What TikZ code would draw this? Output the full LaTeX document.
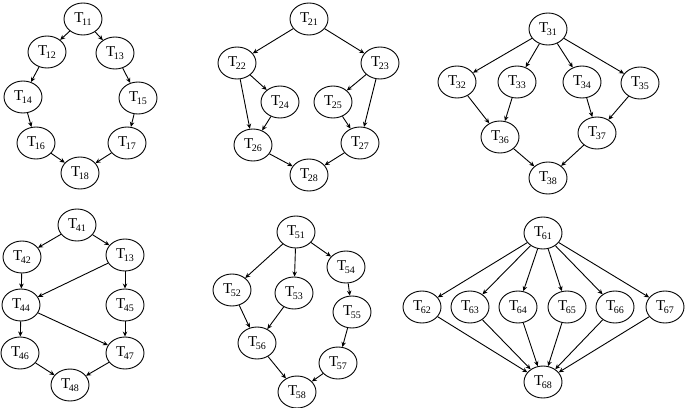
\documentclass[tikz,border=0pt]{standalone}
\usepackage{fontspec}
\setmainfont{Liberation Serif}
\usetikzlibrary{shapes.geometric,arrows.meta}
\newcommand\tlab[1]{T\kern-0.5pt\raisebox{-0.45ex}{\fontsize{10}{10}\selectfont\kern-0.8pt #1}}
\tikzset{
  task/.style={draw, ellipse, line width=0.9pt, minimum width=38pt, minimum height=32pt, inner sep=0pt, font=\fontsize{15}{17}\selectfont},
  edge/.style={draw, line width=0.9pt, -{Stealth[length=5pt,width=4.5pt]}}
}
\begin{document}
\begin{tikzpicture}[x=1pt,y=-1pt]
\useasboundingbox (0,0) rectangle (685,407);
% graph 1
\node[task] (a1) at (83,19) {\tlab{11}};
\node[task] (a2) at (47,52) {\tlab{12}};
\node[task] (a3) at (115,53) {\tlab{13}};
\node[task] (a4) at (23,97) {\tlab{14}};
\node[task] (a5) at (138,98) {\tlab{15}};
\node[task] (a6) at (36,143) {\tlab{16}};
\node[task] (a7) at (127,143) {\tlab{17}};
\node[task] (a8) at (80,173) {\tlab{18}};
\foreach \s/\t in {a1/a2,a1/a3,a2/a4,a3/a5,a4/a6,a5/a7,a6/a8,a7/a8}
  \draw[edge] (\s) -- (\t);
% graph 2
\node[task] (b1) at (309,19) {\tlab{21}};
\node[task] (b2) at (237,63) {\tlab{22}};
\node[task] (b3) at (380,63) {\tlab{23}};
\node[task] (b4) at (280,102) {\tlab{24}};
\node[task] (b5) at (333,102) {\tlab{25}};
\node[task] (b6) at (253,145) {\tlab{26}};
\node[task] (b7) at (360,143) {\tlab{27}};
\node[task] (b8) at (309,175) {\tlab{28}};
\foreach \s/\t in {b1/b2,b1/b3,b2/b4,b2/b6,b4/b6,b3/b5,b3/b7,b5/b7,b6/b8,b7/b8}
  \draw[edge] (\s) -- (\t);
% graph 3
\node[task] (c1) at (548,29) {\tlab{31}};
\node[task] (c2) at (457,82) {\tlab{32}};
\node[task] (c3) at (517,82) {\tlab{33}};
\node[task] (c4) at (582,82) {\tlab{34}};
\node[task] (c5) at (640,83) {\tlab{35}};
\node[task] (c6) at (500,137) {\tlab{36}};
\node[task] (c7) at (597,133) {\tlab{37}};
\node[task] (c8) at (548,178) {\tlab{38}};
\foreach \s/\t in {c1/c2,c1/c3,c1/c4,c1/c5,c2/c6,c3/c6,c4/c7,c5/c7,c6/c8,c7/c8}
  \draw[edge] (\s) -- (\t);
% graph 4
\node[task] (d1) at (77,225) {\tlab{41}};
\node[task] (d2) at (22,257) {\tlab{42}};
\node[task] (d3) at (125,255) {\tlab{13}};
\node[task] (d4) at (21,305) {\tlab{44}};
\node[task] (d5) at (125,305) {\tlab{45}};
\node[task] (d6) at (20,353) {\tlab{46}};
\node[task] (d7) at (125,353) {\tlab{47}};
\node[task] (d8) at (70,385) {\tlab{48}};
\foreach \s/\t in {d1/d2,d1/d3,d2/d4,d3/d4,d3/d5,d4/d6,d4/d7,d5/d7,d6/d8,d7/d8}
  \draw[edge] (\s) -- (\t);
% graph 5
\node[task] (e1) at (296,232) {\tlab{51}};
\node[task] (e2) at (232,290) {\tlab{52}};
\node[task] (e3) at (294,293) {\tlab{53}};
\node[task] (e4) at (346,267) {\tlab{54}};
\node[task] (e5) at (352,312) {\tlab{55}};
\node[task] (e6) at (257,343) {\tlab{56}};
\node[task] (e7) at (338,363) {\tlab{57}};
\node[task] (e8) at (297,392) {\tlab{58}};
\foreach \s/\t in {e1/e2,e1/e3,e1/e4,e2/e6,e3/e6,e4/e5,e5/e7,e6/e8,e7/e8}
  \draw[edge] (\s) -- (\t);
% graph 6
\node[task] (f1) at (543,233) {\tlab{61}};
\node[task] (f2) at (422,307) {\tlab{62}};
\node[task] (f3) at (470,307) {\tlab{63}};
\node[task] (f4) at (518,307) {\tlab{64}};
\node[task] (f5) at (567,307) {\tlab{65}};
\node[task] (f6) at (615,307) {\tlab{66}};
\node[task] (f7) at (665,307) {\tlab{67}};
\node[task] (f8) at (543,382) {\tlab{68}};
\foreach \m in {f2,f3,f4,f5,f6,f7} {
  \draw[edge] (f1) -- (\m);
  \draw[edge] (\m) -- (f8);
}
\end{tikzpicture}
\end{document}
